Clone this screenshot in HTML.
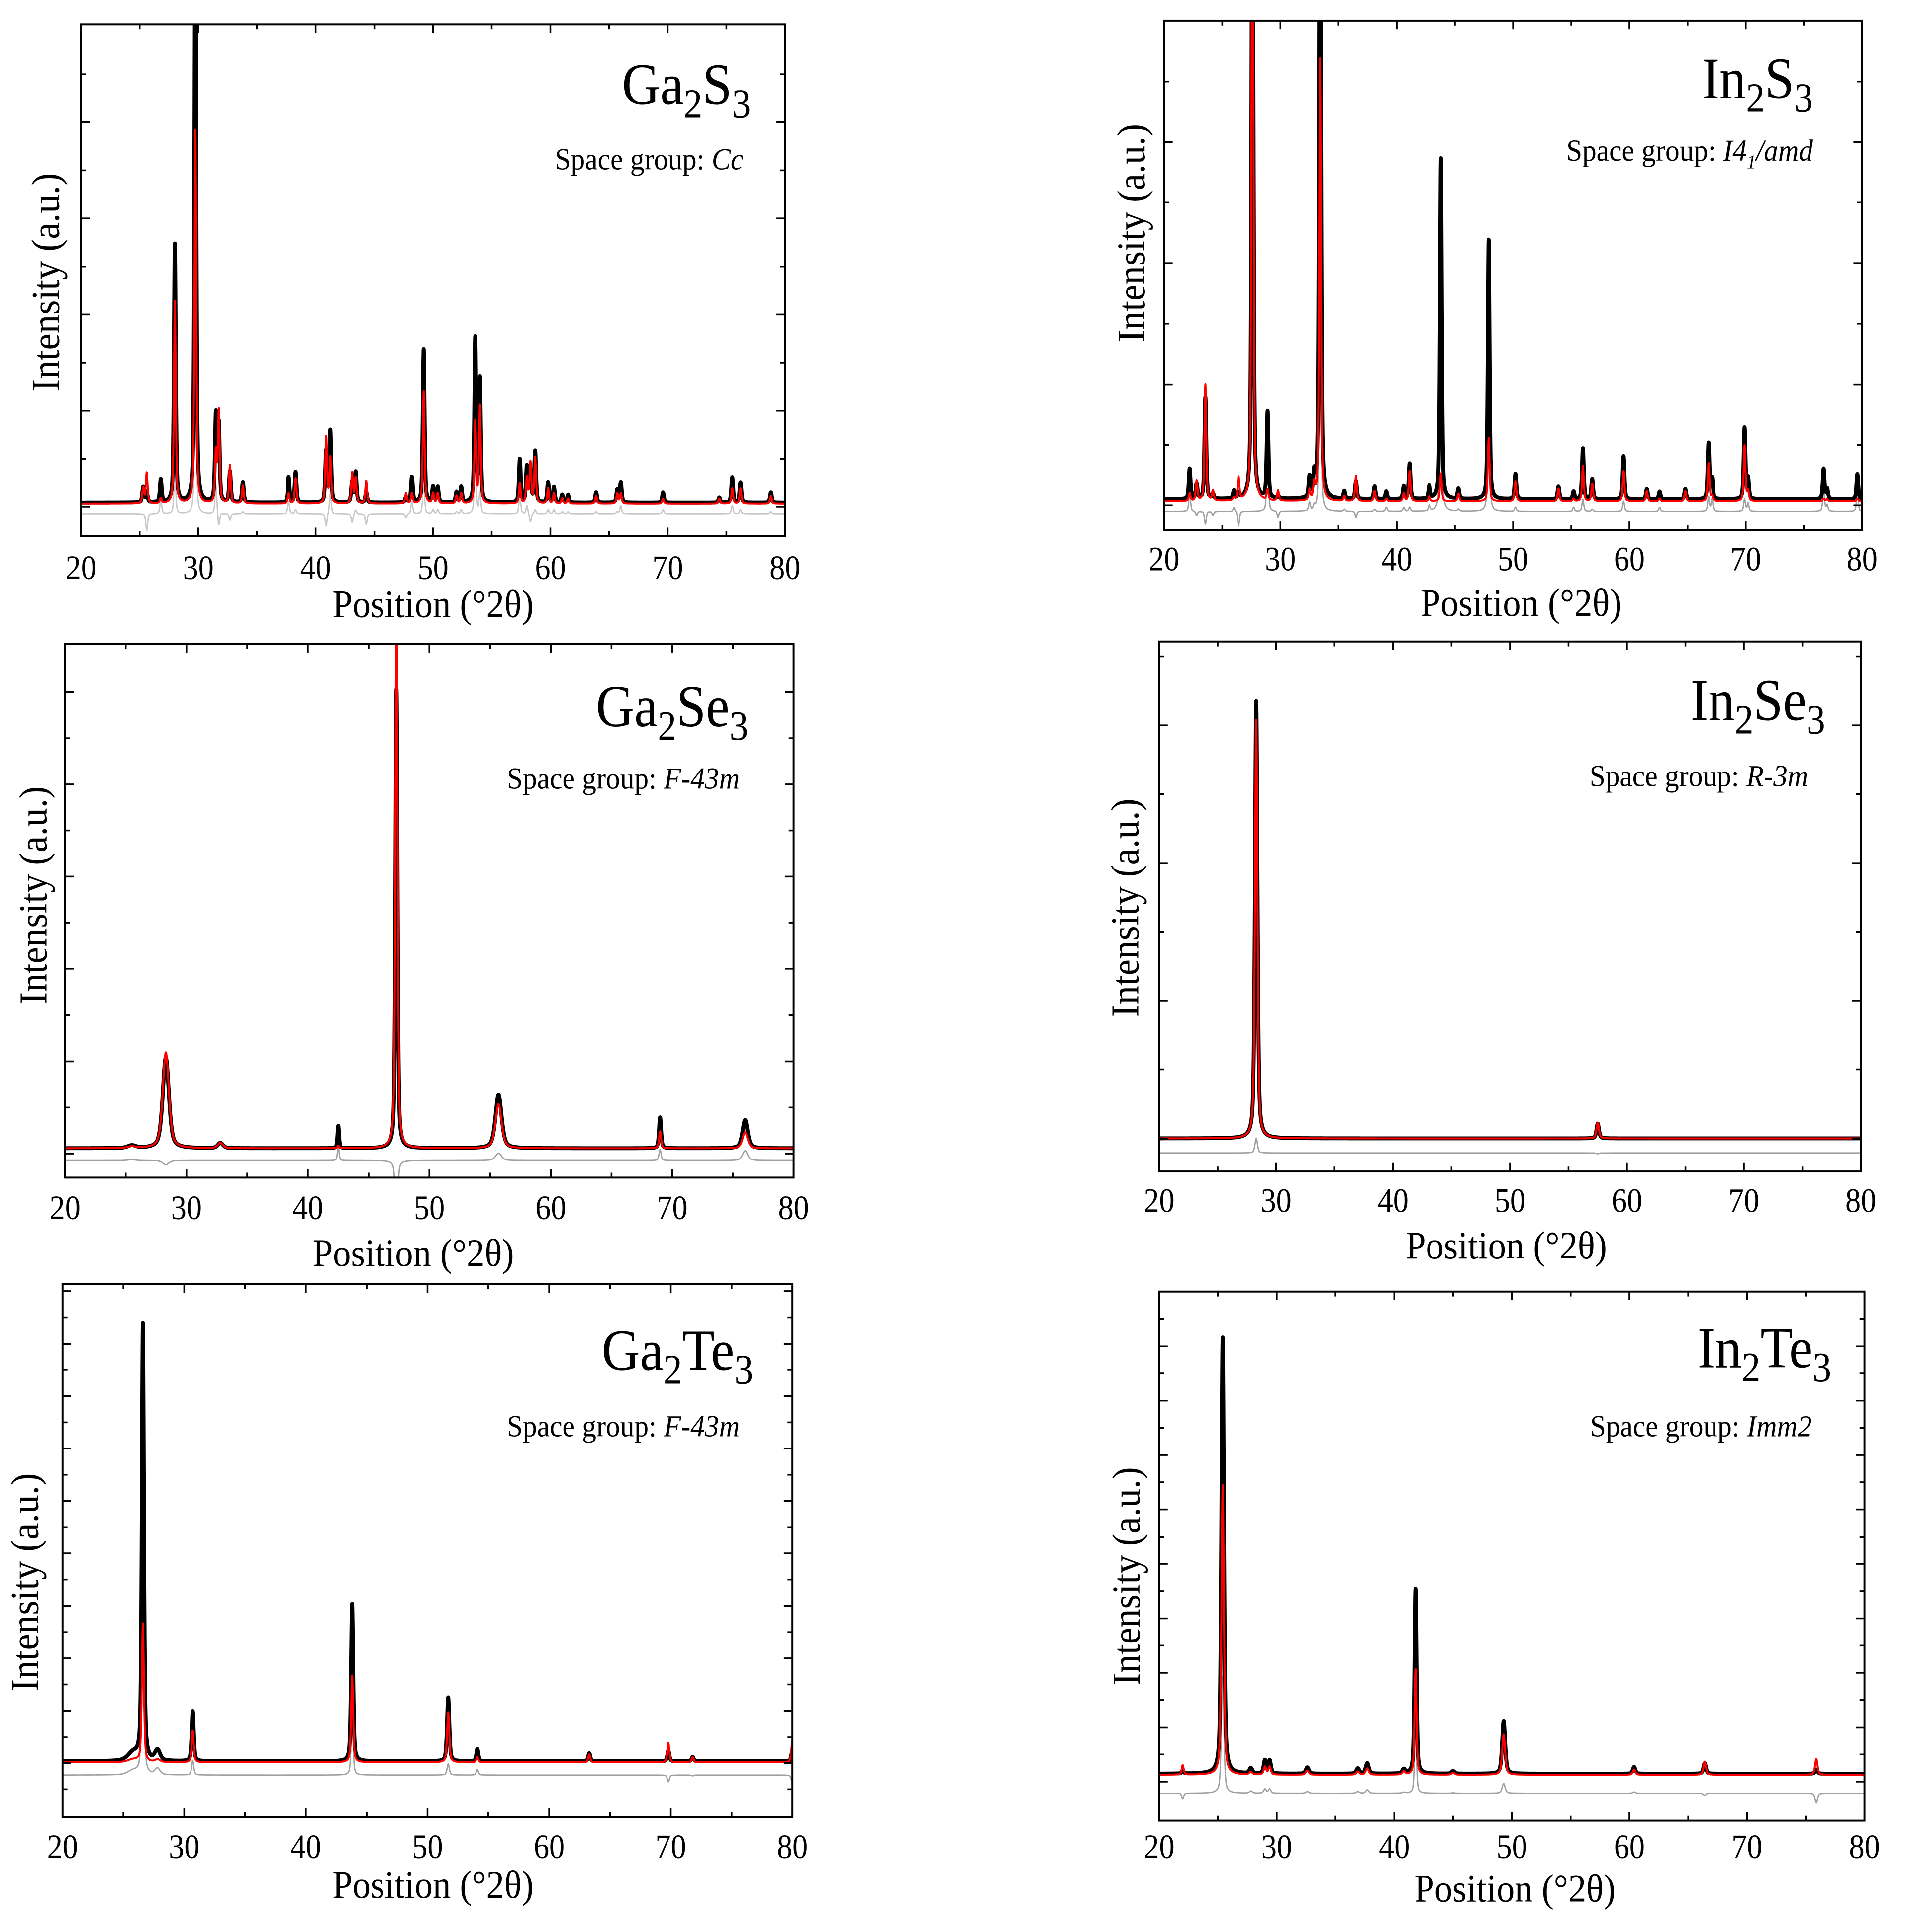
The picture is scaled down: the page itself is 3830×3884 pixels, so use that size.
<!DOCTYPE html>
<html><head><meta charset="utf-8">
<style>
html,body{margin:0;padding:0;background:#fff;}
svg{display:block;}
text{font-family:"Liberation Serif",serif;fill:#000;}
</style></head>
<body>
<svg id="fig" xmlns="http://www.w3.org/2000/svg" width="3830" height="3884" viewBox="0 0 1553 1575" preserveAspectRatio="none"></svg>
<script>
// ---- data: peak positions (deg 2theta), observed / calculated heights above background (% of plot height), FWHM (deg)
const ga2s3Pos  = [25.3,25.6,26.8,28.0,29.75,31.5,31.75,32.7,33.8,37.7,38.3,40.9,41.25,43.1,43.4,44.3,47.7,48.2,49.2,50.0,50.4,52.0,52.4,53.6,54.0,57.4,58.0,58.3,58.7,59.8,60.3,61.0,61.5,63.9,65.7,66.0,69.6,74.4,75.5,76.2,78.8];
const ga2s3Obs  = [3,2,4.5,50.5,120,17,15,6,4,5,6,10,14,4,6,2,1,5,30,3,3,2,3,32,24,8.5,7,6,10,4,3,1.5,1.5,2,2.5,4,2,1,5,4,2];
const ga2s3Calc = [3,6,1,39.5,73,10,18,7.5,3.5,2,5,13,9,6,5,4.5,2,2,22,2,2,1.5,2,16,19,4,5,8,9,3,2,1,1,1.5,2,2,1,1,3,3,1.5];
const in2s3Pos  = [22.2,22.8,23.55,24.2,26.0,26.4,27.6,28.9,29.8,32.5,32.9,33.4,35.5,36.5,38.1,39.1,40.6,41.1,42.8,43.8,45.3,47.9,50.2,53.9,55.2,56.0,56.8,59.5,61.5,62.6,64.8,66.8,67.1,69.9,70.2,76.7,77.0,79.6];
const in2s3Obs  = [6,3,20,1,1.5,1,150,17,0.5,4,4,150,1.5,3.5,2.5,1.5,2.5,7,2.5,67,2,51,5,2.5,1.5,10,4,8.5,2,1.5,2,11,4,14,4,6,2,5];
const in2s3Calc = [1.5,4,23,2,0.5,4.5,150,2,2,2,3,87,1,5,2,0.5,1.5,6,1,5.5,1.5,12.5,4,2.5,0.5,7,3.5,6,2,0.5,2,7.5,1,11,2,0.5,0.5,0.5];
const ga2se3Pos  = [25.5,28.3,32.8,42.5,47.3,55.7,69.0,76.0];
const ga2se3Obs  = [0.5,17,1,4.2,86,10,5.8,5.3];
const ga2se3Calc = [0.3,18,1,0.5,110,8.3,3.2,3];
const ga2se3Fwhm = [0.8,0.6,0.5,0.15,0.2,0.6,0.2,0.5];
const in2se3Pos  = [28.3,57.5];
const in2se3Obs  = [82.5,2.8];
const in2se3Calc = [79,3];
const in2se3Fwhm = [0.25,0.25];
const ga2te3Pos  = [25.8,26.6,27.8,30.7,43.8,51.7,54.1,63.3,69.8,71.8,80.0];
const ga2te3Obs  = [1.5,82,2,9.4,29.6,12,2.3,1.5,2,0.8,2];
const ga2te3Calc = [0.5,26,0.5,6,16.3,9.4,1,1.5,3.6,1,4];
const ga2te3Fwhm = [1.0,0.2,0.5,0.2,0.2,0.22,0.2,0.2,0.2,0.2,0.2];
const in2te3Pos  = [22.0,25.4,27.8,29.0,29.4,32.6,36.9,37.7,40.8,41.8,45.0,49.3,60.4,66.4,75.9];
const in2te3Obs  = [0.5,82.6,1,2.5,2.5,1.2,1,2,0.8,35,0.5,10,1.3,2,0.8];
const in2te3Calc = [1.8,54.8,0.5,1.5,1.5,0.8,0.6,1.2,0.6,20,0.4,7.7,1,2.5,3];
const in2te3Fwhm = [0.2,0.25,0.3,0.25,0.25,0.3,0.3,0.3,0.3,0.2,0.3,0.3,0.25,0.25,0.25];
const xTickLabels = ["20","30","40","50","60","70","80"];
</script>
<script>
const NS="http://www.w3.org/2000/svg";
const svg=document.getElementById('fig');
function mk(tag,attrs,parent){const e=document.createElementNS(NS,tag);for(const k in attrs)e.setAttribute(k,attrs[k]);(parent||svg).appendChild(e);return e;}
function txt(parent,x,y,size,anchor,sx,rot){
  let tr='translate('+x+','+y+')';
  if(rot)tr+=' rotate('+rot+')';
  tr+=' scale('+sx+',1)';
  return mk('text',{x:0,y:0,'font-size':size,'text-anchor':anchor,transform:tr},parent);
}

const panels=[
 {id:'ga2s3',el:'Ga',an:'S',sg:'Cc',x0:66,x1:640,y0:20,y1:437,base:6.5,cbase:6.3,diff:4.3,pos:ga2s3Pos,obs:ga2s3Obs,calc:ga2s3Calc,fw:null,dw:0.18,tk0:5.7,tks:18.8,
  tx:612,ty:85,sx:606,sy:138,ylx:37,yly:230,xlx:353,xly:503,tly:472,gray:'#c8c8c8'},
 {id:'in2s3',el:'In',an:'S',sg:'I4',sgsub:'1',sg2:'/amd',x0:949,x1:1518,y0:17,y1:432,base:6,cbase:5.6,diff:3.6,pos:in2s3Pos,obs:in2s3Obs,calc:in2s3Calc,fw:null,dw:0.18,tk0:4.8,tks:23.8,
  tx:1478,ty:80,sx:1478,sy:131,ylx:922,yly:190,xlx:1240,xly:502,tly:465,gray:'#a0a0a0'},
 {id:'ga2se3',el:'Ga',an:'Se',sg:'F-43m',x0:53,x1:647,y0:525,y1:960,base:5.5,cbase:5.5,diff:3.2,pos:ga2se3Pos,obs:ga2se3Obs,calc:ga2se3Calc,fw:ga2se3Fwhm,dw:0.2,tk0:4.5,tks:17.3,
  tx:610,ty:592,sx:603,sy:643,ylx:27,yly:730,xlx:337,xly:1032,tly:994,gray:'#a0a0a0'},
 {id:'in2se3',el:'In',an:'Se',sg:'R-3m',x0:945,x1:1517,y0:523,y1:955,base:6.25,cbase:6.25,diff:3.5,pos:in2se3Pos,obs:in2se3Obs,calc:in2se3Calc,fw:in2se3Fwhm,dw:0.2,tk0:6.2,tks:26,
  tx:1488,ty:587,sx:1474,sy:641,ylx:917,yly:740,xlx:1228,xly:1026,tly:988,gray:'#a0a0a0'},
 {id:'ga2te3',el:'Ga',an:'Te',sg:'F-43m',x0:51,x1:646,y0:1047,y1:1481,base:10.4,cbase:10.2,diff:7.8,pos:ga2te3Pos,obs:ga2te3Obs,calc:ga2te3Calc,fw:ga2te3Fwhm,dw:0.2,tk0:0.2,tks:9.85,
  tx:614,ty:1117,sx:603,sy:1171,ylx:20,yly:1290,xlx:353,xly:1547,tly:1515,gray:'#a0a0a0'},
 {id:'in2te3',el:'In',an:'Te',sg:'Imm2',x0:945,x1:1520,y0:1053,y1:1484,base:8.8,cbase:8.6,diff:5.1,pos:in2te3Pos,obs:in2te3Obs,calc:in2te3Calc,fw:in2te3Fwhm,dw:0.2,tk0:7.3,tks:10.3,
  tx:1493,ty:1115,sx:1477,sy:1171,ylx:918,yly:1285,xlx:1235,xly:1550,tly:1515,gray:'#a0a0a0'}
];

function profile(p,hs,x){
  let s=0;
  for(let i=0;i<p.pos.length;i++){
    const w=p.fw?p.fw[i]:p.dw;const d=(x-p.pos[i])/w;const d2=d*d;
    if(d2>2500)continue;
    s+=hs[i]*(0.5/(1+4*d2)+0.5*Math.exp(-2.7726*d2));
  }
  return s;
}

panels.forEach(p=>{
  const g=mk('g',{});
  
  
  const W=p.x1-p.x0,H=p.y1-p.y0;
  const xs=v=>p.x0+(v-20)/60*W;
  const ys=v=>p.y1-v/100*H;
  const clip=mk('clipPath',{id:'c-'+p.id},g);
  mk('rect',{x:p.x0,y:p.y0,width:W,height:H},clip);
  const series=[[],[],[]];
  for(let x=20;x<=80.0001;x+=0.01){
    const o=p.base+profile(p,p.obs,x), c=p.cbase+profile(p,p.calc,x);
    const dv=p.diff+(o-c-(p.base-p.cbase))*0.8;
    series[0].push(xs(x).toFixed(2)+','+ys(o).toFixed(2));
    series[1].push(xs(x).toFixed(2)+','+ys(c).toFixed(2));
    series[2].push(xs(x).toFixed(2)+','+ys(dv).toFixed(2));
  }
  const cg=mk('g',{'clip-path':'url(#c-'+p.id+')'},g);
  const d=mk('polyline',{points:series[2].join(' '),fill:'none',stroke:p.gray,'stroke-width':1.1},cg);
  
  
  const o=mk('polyline',{points:series[0].join(' '),fill:'none',stroke:'#000','stroke-width':3.2,'stroke-linejoin':'round'},cg);
  
  
  const c=mk('polyline',{points:series[1].join(' '),fill:'none',stroke:'#ff0000','stroke-width':1.6,'stroke-linejoin':'round'},cg);
  
  
  const fr=mk('rect',{x:p.x0,y:p.y0,width:W,height:H,fill:'none',stroke:'#000','stroke-width':1.6},g);
  
  
  for(let v=20;v<=80;v+=5){
    const L=(v%10===0)?7:4;const X=xs(v);
    mk('line',{x1:X,y1:p.y1,x2:X,y2:p.y1-L,stroke:'#000','stroke-width':1.4},g);
    mk('line',{x1:X,y1:p.y0,x2:X,y2:p.y0+L,stroke:'#000','stroke-width':1.4},g);
  }
  xTickLabels.forEach(t=>{
    const tl=txt(g,xs(+t),p.tly,28,'middle',0.9);
    tl.textContent=t;
    
    
  });
  for(let k=0;;k++){
    const v=p.tk0+k*p.tks/2; if(v>=99.5)break; if(v<0.5)continue;
    const L=(k%2===0)?7:4;const Y=ys(v);
    mk('line',{x1:p.x0,y1:Y,x2:p.x0+L,y2:Y,stroke:'#000','stroke-width':1.4},g);
    mk('line',{x1:p.x1,y1:Y,x2:p.x1-L,y2:Y,stroke:'#000','stroke-width':1.4},g);
  }
  const xl=txt(g,p.xlx,p.xly,32,'middle',0.92);
  xl.textContent='Position (°2θ)';
  
  
  const yl=txt(g,p.ylx+11,p.yly,32,'middle',0.95,-90);
  yl.textContent='Intensity (a.u.)';
  
  
  const tt=txt(g,p.tx,p.ty,48,'end',0.9);
  
  
  tt.innerHTML=p.el+'<tspan font-size="34" dy="11">2</tspan><tspan dy="-11">'+p.an+'</tspan><tspan font-size="34" dy="11">3</tspan>';
  const sg=txt(g,p.sx,p.sy,25,'end',0.93);
  
  
  sg.innerHTML='Space group: <tspan font-style="italic">'+p.sg+'</tspan>'+(p.sgsub?'<tspan font-style="italic" font-size="16" dy="6">'+p.sgsub+'</tspan><tspan font-style="italic" dy="-6">'+p.sg2+'</tspan>':'');
});
</script>
</body></html>
